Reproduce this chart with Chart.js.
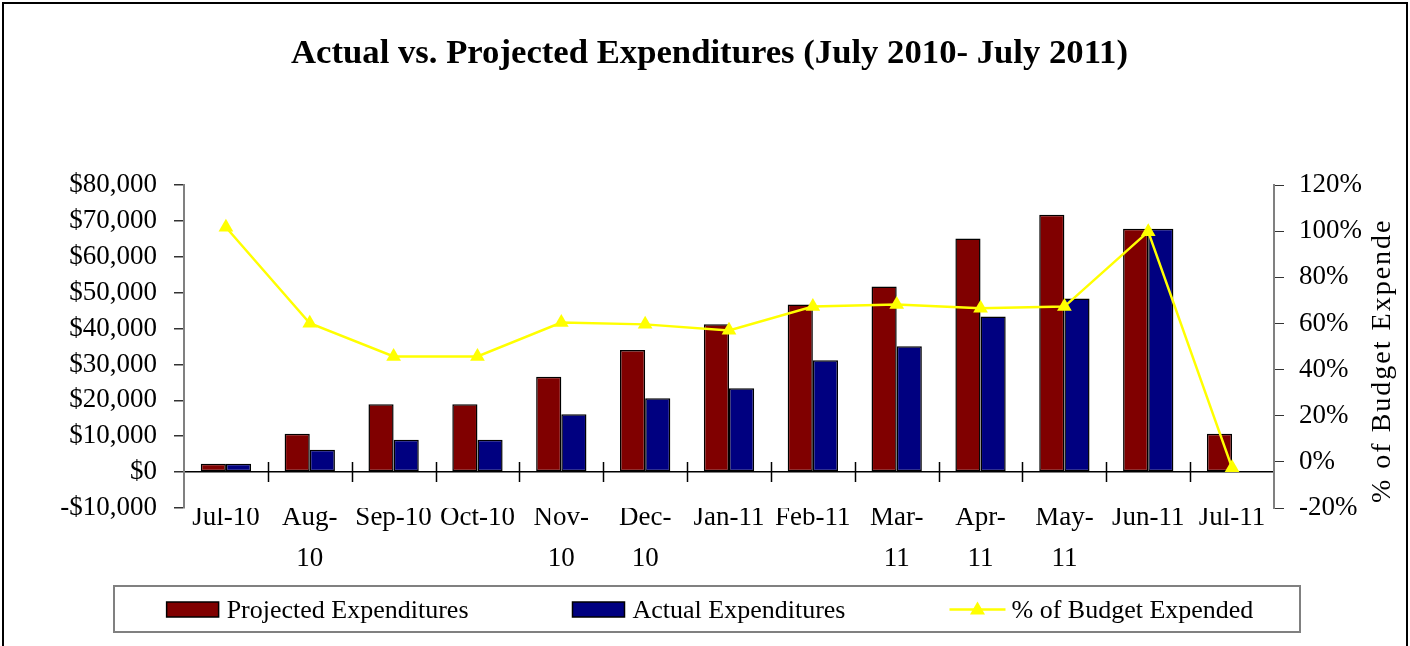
<!DOCTYPE html>
<html>
<head>
<meta charset="utf-8">
<title>Actual vs. Projected Expenditures</title>
<script src="https://cdn.jsdelivr.net/npm/chart.js@4.4.1/dist/chart.umd.min.js"></script>
<style>
    html, body { margin: 0; padding: 0; background: #fff; }
    #wrap { width: 1410px; height: 646px; position: relative; }
</style>
</head>
<body>
<div id="wrap"><canvas id="chart"></canvas></div>
<script>
const categories = ['Jul-10', ['Aug-', '10'], 'Sep-10', 'Oct-10', ['Nov-', '10'], ['Dec-', '10'],
    'Jan-11', 'Feb-11', ['Mar-', '11'], ['Apr-', '11'], ['May-', '11'], 'Jun-11', 'Jul-11'];
const projected = [2300, 10700, 18900, 18900, 26600, 34000, 41200, 46700, 51700, 65100, 71700, 67800, 10700];
const actual = [2300, 6200, 9000, 9000, 16100, 20600, 23400, 31200, 35100, 43400, 48400, 67800, null];
const pctExpended = [101.7, 60.1, 45.7, 45.7, 60.4, 59.6, 57.0, 67.3, 68.2, 66.6, 67.3, 99.8, -2.6];

const SERIF = "'Liberation Serif', 'Times New Roman', serif";
const legendItems = [
    { text: 'Projected Expenditures', type: 'box', color: '#800000' },
    { text: 'Actual Expenditures', type: 'box', color: '#000080' },
    { text: '% of Budget Expended', type: 'line', color: '#FFFF00' }
];

function money(v) {
    const s = '$' + Math.abs(v).toLocaleString('en-US');
    return v < 0 ? '-' + s : s;
}

// white page + outer frame
const frame = {
    id: 'frame',
    beforeDraw(chart) {
        const ctx = chart.ctx;
        ctx.save();
        ctx.fillStyle = '#fff';
        ctx.fillRect(0, 0, chart.width, chart.height);
        ctx.strokeStyle = '#000';
        ctx.lineWidth = 2;
        ctx.strokeRect(3, 3, chart.width - 6, chart.height + 20);
        ctx.restore();
    }
};

// small tick marks across the $0 line between categories
const zeroTicks = {
    id: 'zeroTicks',
    afterDatasetsDraw(chart) {
        const x = chart.scales.x, y = chart.scales.y;
        const y0 = y.getPixelForValue(0);
        const ctx = chart.ctx;
        ctx.save();
        ctx.strokeStyle = '#000';
        ctx.lineWidth = 1.5;
        ctx.beginPath();
        for (let i = 1; i < categories.length; i++) {
            const px = Math.round((x.getPixelForValue(i - 1) + x.getPixelForValue(i)) / 2) + 0.5;
            ctx.moveTo(px, y0 - 10);
            ctx.lineTo(px, y0 + 10);
        }
        ctx.stroke();
        ctx.restore();
    }
};

// right axis title, clipped at the top like the original
const rightTitle = {
    id: 'rightTitle',
    afterDraw(chart) {
        const ctx = chart.ctx;
        const area = chart.chartArea;
        ctx.save();
        ctx.beginPath();
        ctx.rect(area.right + 40, area.top + 34, 120, area.bottom);
        ctx.clip();
        ctx.translate(1390, 503);
        ctx.rotate(-Math.PI / 2);
        ctx.font = '28px ' + SERIF;
        ctx.letterSpacing = '2px';
        ctx.fillStyle = '#000';
        ctx.textAlign = 'left';
        ctx.textBaseline = 'alphabetic';
        ctx.fillText('% of Budget Expended', 0, 0);
        ctx.restore();
    }
};

// boxed legend under the axis labels
const boxedLegend = {
    id: 'boxedLegend',
    afterDraw(chart) {
        const ctx = chart.ctx;
        ctx.save();
        ctx.strokeStyle = '#808080';
        ctx.lineWidth = 2;
        ctx.strokeRect(114, 586, 1186, 46);

        ctx.font = '26px ' + SERIF;
        const gap = 104;
        const widths = legendItems.map(it => (it.type === 'box' ? 60 : 62) + ctx.measureText(it.text).width);
        const total = widths.reduce((a, b) => a + b, 0) + gap * (legendItems.length - 1);
        let x = 710 - total / 2;
        const midY = 609.5;
        legendItems.forEach((it, i) => {
            if (it.type === 'box') {
                ctx.fillStyle = it.color;
                ctx.fillRect(x, midY - 7.5, 52, 15);
                ctx.strokeStyle = '#000';
                ctx.lineWidth = 1.5;
                ctx.strokeRect(x, midY - 7.5, 52, 15);
            } else {
                ctx.strokeStyle = it.color;
                ctx.lineWidth = 2.5;
                ctx.beginPath();
                ctx.moveTo(x, midY);
                ctx.lineTo(x + 56, midY);
                ctx.stroke();
                ctx.fillStyle = it.color;
                ctx.beginPath();
                ctx.moveTo(x + 28, midY - 8);
                ctx.lineTo(x + 35.5, midY + 5);
                ctx.lineTo(x + 20.5, midY + 5);
                ctx.closePath();
                ctx.fill();
            }
            ctx.fillStyle = '#000';
            ctx.textBaseline = 'alphabetic';
            ctx.fillText(it.text, x + (it.type === 'box' ? 60 : 62), 618);
            x += widths[i] + gap;
        });
        ctx.restore();
    }
};

document.addEventListener('DOMContentLoaded', () => {
    const ctx = document.getElementById('chart').getContext('2d');
    new Chart(ctx, {
        data: {
            labels: categories,
            datasets: [{
                type: 'line',
                label: '% of Budget Expended',
                data: pctExpended,
                yAxisID: 'y1',
                order: 0,
                borderColor: '#FFFF00',
                backgroundColor: '#FFFF00',
                borderWidth: 2.5,
                tension: 0,
                pointStyle: 'triangle',
                pointRadius: 8.5,
                pointBorderWidth: 0,
                pointBackgroundColor: '#FFFF00'
            }, {
                type: 'bar',
                label: 'Projected Expenditures',
                data: projected,
                yAxisID: 'y',
                order: 1,
                backgroundColor: '#800000',
                borderColor: '#000',
                borderWidth: 1.5,
                borderSkipped: false,
                barPercentage: 1,
                categoryPercentage: 0.6
            }, {
                type: 'bar',
                label: 'Actual Expenditures',
                data: actual,
                yAxisID: 'y',
                order: 2,
                backgroundColor: '#000080',
                borderColor: '#000',
                borderWidth: 1.5,
                borderSkipped: false,
                barPercentage: 1,
                categoryPercentage: 0.6
            }]
        },
        options: {
            responsive: true,
            maintainAspectRatio: false,
            animation: false,
            layout: { padding: { left: 9, right: 0, top: 0, bottom: 58 } },
            plugins: {
                legend: { display: false },
                tooltip: { enabled: false },
                title: {
                    display: true,
                    text: 'Actual vs. Projected Expenditures (July 2010- July 2011)',
                    color: '#000',
                    font: { family: SERIF, size: 34.7, weight: 'bold', lineHeight: 1.2 },
                    padding: { top: 33.6, bottom: 109.8 }
                }
            },
            scales: {
                x: {
                    grid: { display: false, drawTicks: false },
                    border: { display: false },
                    ticks: {
                        color: '#000',
                        font: { family: SERIF, size: 27, lineHeight: 1.5 },
                        padding: -10,
                        autoSkip: false,
                        maxRotation: 0,
                        minRotation: 0
                    },
                    afterFit: s => { s.height = 80; }
                },
                y: {
                    position: 'left',
                    min: -10000,
                    max: 80000,
                    ticks: {
                        stepSize: 10000,
                        color: '#000',
                        padding: 17,
                        font: { family: SERIF, size: 27 },
                        callback: v => money(v)
                    },
                    grid: {
                        color: c => (c.tick && c.tick.value === 0 ? '#000' : 'rgba(0,0,0,0)'),
                        lineWidth: 1.5,
                        tickColor: '#333',
                        tickLength: 10
                    },
                    border: { color: '#808080', width: 2 },
                    afterFit: s => { s.width = 175; }
                },
                y1: {
                    position: 'right',
                    min: -20,
                    max: 120,
                    ticks: {
                        stepSize: 20,
                        color: '#000',
                        padding: 15,
                        font: { family: SERIF, size: 27 },
                        callback: v => v + '%'
                    },
                    grid: { drawOnChartArea: false, tickColor: '#333', tickLength: 10 },
                    border: { color: '#808080', width: 2 },
                    afterFit: s => { s.width = 136; }
                }
            }
        },
        plugins: [frame, zeroTicks, rightTitle, boxedLegend]
    });
});
</script>
</body>
</html>
